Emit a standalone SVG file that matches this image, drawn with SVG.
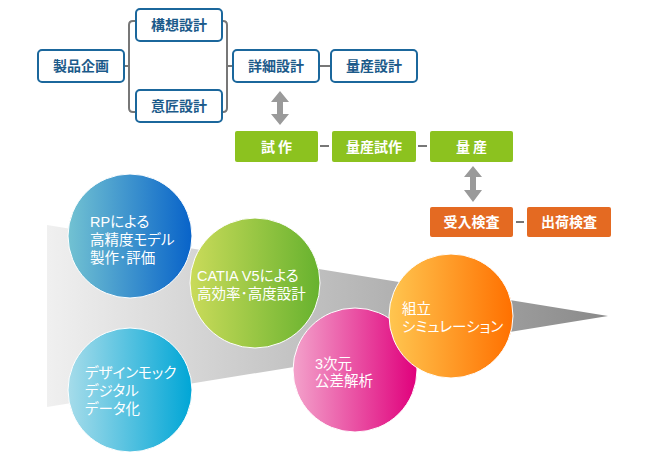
<svg xmlns="http://www.w3.org/2000/svg" width="650" height="460" viewBox="0 0 650 460">
<defs>
<linearGradient id="gWedge" x1="0" y1="0" x2="1" y2="0"><stop offset="0" stop-color="#f0f0f0"/><stop offset="1" stop-color="#8a8a8a"/></linearGradient>
<linearGradient id="gBlue" x1="0" y1="0" x2="1" y2="0"><stop offset="0" stop-color="#72c2d2"/><stop offset="1" stop-color="#0863c9"/></linearGradient>
<linearGradient id="gGreen" x1="0" y1="0" x2="1" y2="0"><stop offset="0" stop-color="#cadb5a"/><stop offset="1" stop-color="#67b22e"/></linearGradient>
<linearGradient id="gCyan" x1="0" y1="0" x2="1" y2="0"><stop offset="0" stop-color="#a6dcea"/><stop offset="1" stop-color="#00a6d6"/></linearGradient>
<linearGradient id="gPink" x1="0" y1="0" x2="1" y2="0"><stop offset="0" stop-color="#f3a2cb"/><stop offset="1" stop-color="#e0007c"/></linearGradient>
<linearGradient id="gOrange" x1="0" y1="0" x2="1" y2="0"><stop offset="0" stop-color="#ffc650"/><stop offset="1" stop-color="#ff7000"/></linearGradient>
</defs>
<style>
.bx{fill:#fff;stroke:#1b679c;stroke-width:2}
.bt{font-family:"Noto Sans CJK JP","Noto Sans",sans-serif;font-size:14px;font-weight:bold;fill:#1b5a8a;text-anchor:middle}
.gb{fill:#8cc21f}
.ob{fill:#e46a22}
.wt{font-family:"Noto Sans CJK JP","Noto Sans",sans-serif;font-size:14px;font-weight:bold;fill:#fff;text-anchor:middle}
.ln{fill:none;stroke:#777;stroke-width:2}
.dash{stroke:#777;stroke-width:2}
.ar{fill:#9a9a9a}
.cc{stroke:#fff;stroke-width:1}
.ct{font-family:"Liberation Sans","Noto Sans CJK JP",sans-serif;font-size:14.5px;fill:#fff;font-feature-settings:"palt" 1}
</style>
<polygon points="47,225 608,316 47,407" fill="url(#gWedge)"/>
<g id="connectors">
<path class="ln" d="M124,66 H129 M136,21 H133 Q129,21 129,25 V108 Q129,112 133,112 H136"/>
<path class="ln" d="M222,21 H223 Q227,21 227,25 V108 Q227,112 223,112 H222 M227,66 H233"/>
<line class="ln" x1="319" y1="66" x2="331" y2="66"/>
<line class="dash" x1="320" y1="146" x2="329" y2="146"/>
<line class="dash" x1="418" y1="146" x2="427" y2="146"/>
<line class="dash" x1="516" y1="222" x2="524" y2="222"/>
<polygon class="ar" points="280,91 289,102 283,102 283,114 289,114 280,125 271,114 277,114 277,102 271,102"/>
<polygon class="ar" points="473,166 482,177 476,177 476,190 482,190 473,202 464,190 470,190 470,177 464,177"/>
</g>
<g id="n1"><rect class="bx" x="38" y="50" width="86" height="32" rx="4"/><text class="bt" x="81" y="71">製品企画</text></g>
<g id="n2"><rect class="bx" x="136" y="9" width="86" height="32" rx="4"/><text class="bt" x="179" y="30">構想設計</text></g>
<g id="n3"><rect class="bx" x="136" y="90" width="86" height="32" rx="4"/><text class="bt" x="179" y="111">意匠設計</text></g>
<g id="n4"><rect class="bx" x="233" y="50" width="86" height="32" rx="4"/><text class="bt" x="276" y="71">詳細設計</text></g>
<g id="n5"><rect class="bx" x="331" y="50" width="86" height="32" rx="4"/><text class="bt" x="374" y="71">量産設計</text></g>
<g id="n6"><rect class="gb" x="235" y="131" width="83" height="31" rx="2"/><text class="wt" x="276.5" y="151.5">試 作</text></g>
<g id="n7"><rect class="gb" x="332" y="131" width="84" height="31" rx="2"/><text class="wt" x="374" y="151.5">量産試作</text></g>
<g id="n8"><rect class="gb" x="430" y="131" width="83" height="31" rx="2"/><text class="wt" x="471.5" y="151.5">量 産</text></g>
<g id="n9"><rect class="ob" x="430" y="207" width="83" height="30" rx="2"/><text class="wt" x="471.5" y="227">受入検査</text></g>
<g id="n10"><rect class="ob" x="527" y="207" width="84" height="30" rx="2"/><text class="wt" x="569" y="227">出荷検査</text></g>
<g id="c1"><circle class="cc" cx="130" cy="236" r="62" fill="url(#gBlue)"/>
<text class="ct" x="90" y="227">RPによる</text><text class="ct" x="90" y="245">高精度モデル</text><text class="ct" x="90" y="263">製作･評価</text></g>
<g id="c2"><circle class="cc" cx="255" cy="283" r="65" fill="url(#gGreen)"/>
<text class="ct" x="197" y="281">CATIA V5による</text><text class="ct" x="197" y="299">高効率･高度設計</text></g>
<g id="c3"><circle class="cc" cx="130" cy="390" r="62" fill="url(#gCyan)"/>
<text class="ct" x="85" y="378">デザインモック</text><text class="ct" x="85" y="396">デジタル</text><text class="ct" x="85" y="414">データ化</text></g>
<g id="c4"><circle class="cc" cx="355" cy="370" r="62" fill="url(#gPink)"/>
<text class="ct" x="315" y="369">3次元</text><text class="ct" x="315" y="386">公差解析</text></g>
<g id="c5"><circle class="cc" cx="451" cy="316" r="62" fill="url(#gOrange)"/>
<text class="ct" x="402" y="314">組立</text><text class="ct" x="402" y="332">シミュレーション</text></g>
</svg>
